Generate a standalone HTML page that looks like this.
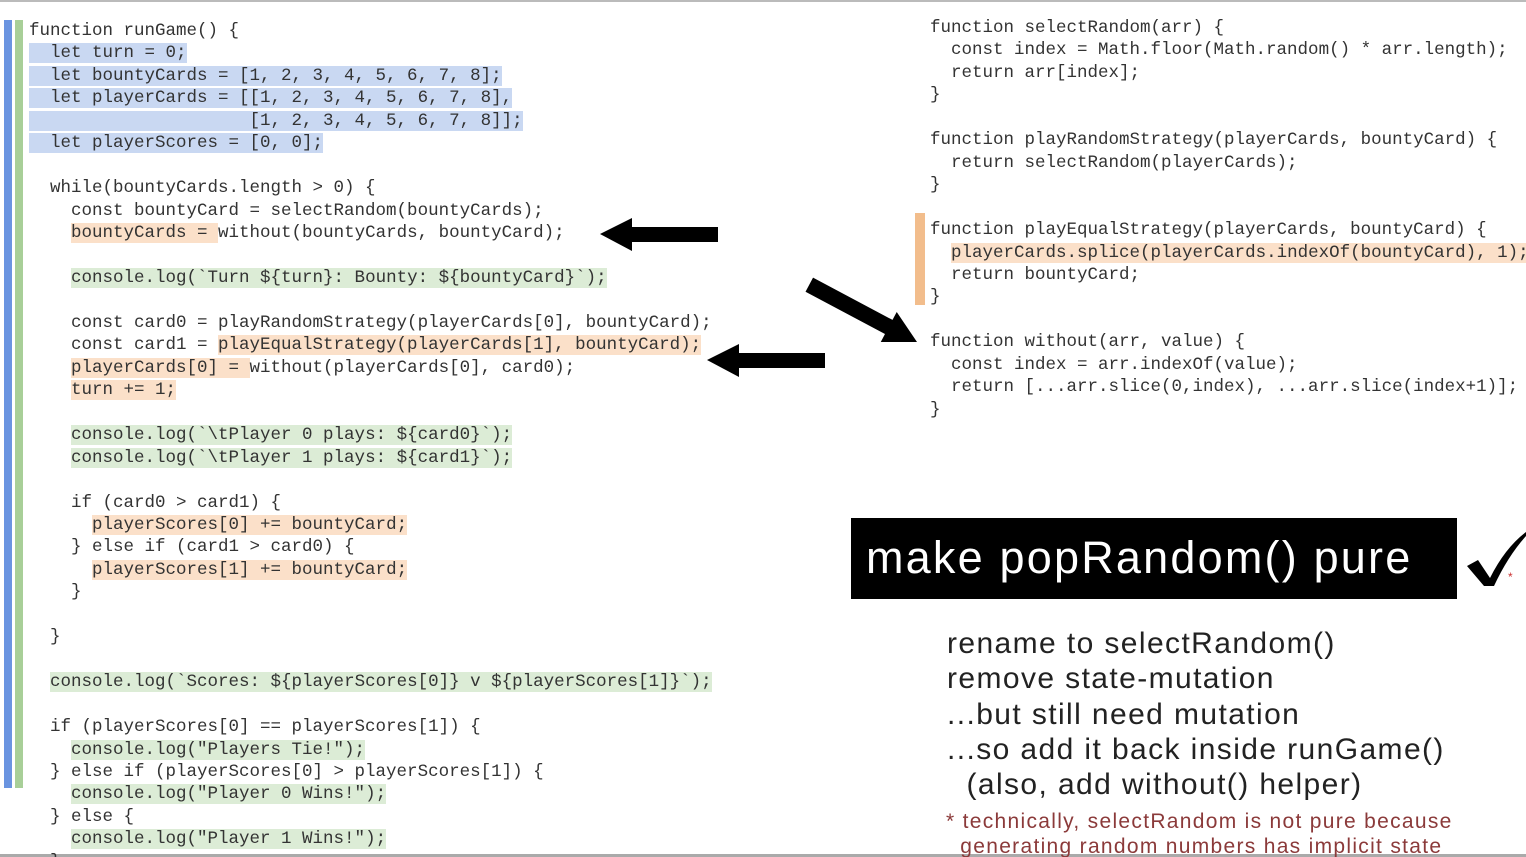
<!DOCTYPE html>
<html><head><meta charset="utf-8"><style>
html,body{margin:0;padding:0;background:#fff;width:1526px;height:857px;overflow:hidden;position:relative}
pre{position:absolute;margin:0;font-family:"Liberation Mono",monospace;font-size:17.5px;line-height:22.45px;color:#333;white-space:pre}
.b{background:#c9d8f2}.o{background:#fbe0c9}.g{background:#dcecd6}
.t{position:absolute;font-family:"Liberation Sans",sans-serif;white-space:nowrap}
</style></head><body>
<div style="position:absolute;left:0;top:0;width:1526px;height:2px;background:#bbb"></div>
<div style="position:absolute;left:0;top:854px;width:1526px;height:3px;background:#aaa"></div>
<div style="position:absolute;left:4px;top:20px;width:8px;height:768px;background:#6a94e0"></div>
<div style="position:absolute;left:15px;top:20px;width:8px;height:768px;background:#a8cf98"></div>
<div style="position:absolute;left:915px;top:213px;width:10px;height:92px;background:#f2bd8c"></div>
<pre style="left:29px;top:20px">function runGame() {
<span class="b">  let turn = 0;</span>
<span class="b">  let bountyCards = [1, 2, 3, 4, 5, 6, 7, 8];</span>
<span class="b">  let playerCards = [[1, 2, 3, 4, 5, 6, 7, 8],</span>
<span class="b">                     [1, 2, 3, 4, 5, 6, 7, 8]];</span>
<span class="b">  let playerScores = [0, 0];</span>

  while(bountyCards.length > 0) {
    const bountyCard = selectRandom(bountyCards);
    <span class="o">bountyCards = </span>without(bountyCards, bountyCard);

    <span class="g">console.log(`Turn ${turn}: Bounty: ${bountyCard}`);</span>

    const card0 = playRandomStrategy(playerCards[0], bountyCard);
    const card1 = <span class="o">playEqualStrategy(playerCards[1], bountyCard);</span>
    <span class="o">playerCards[0] = </span>without(playerCards[0], card0);
    <span class="o">turn += 1;</span>

    <span class="g">console.log(`\tPlayer 0 plays: ${card0}`);</span>
    <span class="g">console.log(`\tPlayer 1 plays: ${card1}`);</span>

    if (card0 > card1) {
      <span class="o">playerScores[0] += bountyCard;</span>
    } else if (card1 > card0) {
      <span class="o">playerScores[1] += bountyCard;</span>
    }

  }

  <span class="g">console.log(`Scores: ${playerScores[0]} v ${playerScores[1]}`);</span>

  if (playerScores[0] == playerScores[1]) {
    <span class="g">console.log("Players Tie!");</span>
  } else if (playerScores[0] > playerScores[1]) {
    <span class="g">console.log("Player 0 Wins!");</span>
  } else {
    <span class="g">console.log("Player 1 Wins!");</span>
  }</pre>
<pre style="left:930px;top:17px">function selectRandom(arr) {
  const index = Math.floor(Math.random() * arr.length);
  return arr[index];
}

function playRandomStrategy(playerCards, bountyCard) {
  return selectRandom(playerCards);
}

function playEqualStrategy(playerCards, bountyCard) {
  <span class="o">playerCards.splice(playerCards.indexOf(bountyCard), 1);</span>
  return bountyCard;
}

function without(arr, value) {
  const index = arr.indexOf(value);
  return [...arr.slice(0,index), ...arr.slice(index+1)];
}</pre>
<svg style="position:absolute;left:0;top:0" width="1526" height="857">
<polygon points="600,234 632,218 632,227 718,227 718,242 632,242 632,251" fill="#000"/>
<polygon points="707,360 739,344 739,353 825,353 825,368 739,368 739,377" fill="#000"/>
<g transform="translate(917,342) rotate(28)"><polygon points="0,0 -32,-17 -32,-8 -122,-8 -122,8 -32,8 -32,17" fill="#000"/></g>
<rect x="851" y="518" width="606" height="81" fill="#000"/>
<path d="M1467,566 L1478,560 L1490,578 Q1505,548 1526,532 L1526,536 Q1508,556 1494,586 L1484,586 Z" fill="#000"/>
</svg>
<div class="t" style="left:866px;top:532px;font-size:45px;color:#fff;letter-spacing:2.2px">make popRandom() pure</div>
<div class="t" style="left:1508px;top:570px;font-size:12px;color:#c33">*</div>
<div class="t" style="left:947px;top:626px;font-size:30px;color:#222;line-height:35.3px;letter-spacing:1.4px">rename to selectRandom()<br>remove state-mutation<br>...but still need mutation<br>...so add it back inside runGame()<br>&nbsp;&nbsp;(also, add without() helper)</div>
<div class="t" style="left:946px;top:809px;font-size:21px;color:#8b3a3a;line-height:25px;letter-spacing:1.3px">* technically, selectRandom is not pure because<br>&nbsp;&nbsp;generating random numbers has implicit state</div>
</body></html>
